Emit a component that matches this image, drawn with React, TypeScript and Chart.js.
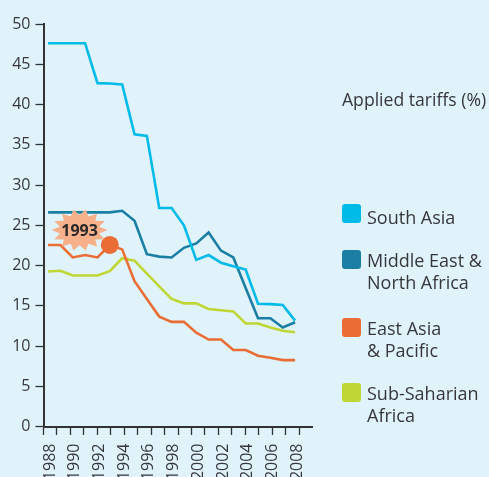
import React, { useEffect, useRef } from "react";
import { Chart, registerables } from "chart.js";

Chart.register(...registerables);

const years = [1988,1989,1990,1991,1992,1993,1994,1995,1996,1997,1998,1999,2000,2001,2002,2003,2004,2005,2006,2007,2008];
const yearLabels = [1988,1990,1992,1994,1996,1998,2000,2002,2004,2006,2008];
const southAsia = [47.6,47.6,47.6,47.6,42.65,42.6,42.5,36.3,36.1,27.15,27.15,25,20.7,21.3,20.35,19.9,19.5,15.25,15.2,15.1,13.15];
const mena = [26.6,26.6,26.6,26.6,26.6,26.6,26.8,25.55,21.4,21.1,21.0,22.2,22.75,24.1,21.85,21.0,17.2,13.45,13.45,12.3,12.95];
const eastAsia = [22.55,22.55,21.0,21.3,21.0,22.55,22.0,18.05,15.85,13.65,13.0,13.0,11.65,10.8,10.8,9.5,9.5,8.8,8.55,8.25,8.25];
const subSaharan = [19.25,19.35,18.75,18.75,18.75,19.3,20.9,20.6,19.0,17.4,15.85,15.3,15.3,14.6,14.45,14.3,12.8,12.8,12.3,11.9,11.7];
const highlightYear = 1993;
const highlightValue = 22.55;
const badgeText = "1993";
const badgeAt = { x: 1990.55, y: 24.4 };
const title = "Applied tariffs (%)";
const legendLabels = [["South Asia"], ["Middle East &", "North Africa"], ["East Asia", "& Pacific"], ["Sub-Saharian", "Africa"]];
const legendColors = ["#00BBE7", "#1B7FA5", "#E96D35", "#BFD634"];
const swatchTops = [204, 249.5, 318, 382.5];
const textTops = [205.5, 249, 317, 382];
const FONT = '"Open Sans", "Noto Sans", sans-serif';
const INK = "#37373B";
const BG = "#E0F3FB";

const series = (vals: number[]) => vals.map((y, i) => ({ x: years[i], y }));

const badgePlugin = {
  id: "badge",
  afterDatasetsDraw(chart: any) {
    const { ctx, scales } = chart;
    const cx = scales.x.getPixelForValue(badgeAt.x);
    const cy = scales.y.getPixelForValue(badgeAt.y);
    const tips = 14;
    ctx.save();
    ctx.beginPath();
    for (let i = 0; i < tips * 2; i++) {
      const a = (i * Math.PI) / tips;
      const r = i % 2 === 0 ? 1 : 0.72;
      const px = cx + Math.cos(a) * 28 * r;
      const py = cy + Math.sin(a) * 21 * r;
      if (i === 0) ctx.moveTo(px, py);
      else ctx.lineTo(px, py);
    }
    ctx.closePath();
    ctx.fillStyle = "#F6B08A";
    ctx.fill();
    ctx.fillStyle = "#2A2A2C";
    ctx.font = `bold 16px ${FONT}`;
    ctx.textAlign = "center";
    ctx.textBaseline = "middle";
    ctx.fillText(badgeText, cx, cy + 1);
    ctx.restore();
  },
};

export default function App() {
  const ref = useRef<HTMLCanvasElement>(null);
  useEffect(() => {
    document.body.style.margin = "0";
    const line = (label: string, data: number[], color: string) => ({
      type: "line" as const,
      label,
      data: series(data),
      borderColor: color,
      backgroundColor: color,
      borderWidth: 2.6,
      pointRadius: 0,
      tension: 0,
      borderJoinStyle: "miter" as const,
      clip: false as const,
    });
    const chart = new Chart(ref.current!, {
      type: "line",
      data: {
        datasets: [
          {
            type: "line",
            label: "highlight",
            data: [{ x: highlightYear, y: highlightValue }],
            pointRadius: 9,
            pointBackgroundColor: "#E96D35",
            pointBorderWidth: 0,
            showLine: false,
          },
          line("South Asia", southAsia, "#00BBE7"),
          line("Middle East & North Africa", mena, "#1B7FA5"),
          line("East Asia & Pacific", eastAsia, "#E96D35"),
          line("Sub-Saharian Africa", subSaharan, "#BFD634"),
        ],
      },
      options: {
        responsive: false,
        animation: false,
        layout: { padding: { top: 24, right: 177, left: 0, bottom: 0 } },
        plugins: { legend: { display: false }, tooltip: { enabled: false } },
        scales: {
          x: {
            type: "linear",
            min: 1987.63,
            max: 2009.37,
            afterBuildTicks: (s: any) => {
              s.ticks = yearLabels.map((value) => ({ value }));
            },
            afterFit: (s: any) => {
              s.height = 50.5;
            },
            grid: { display: false, drawTicks: false },
            border: { display: false },
            ticks: {
              autoSkip: false,
              minRotation: 90,
              maxRotation: 90,
              padding: 17,
              labelOffset: 2,
              color: INK,
              font: { family: FONT, size: 16 },
              callback: (v: any) => String(v),
            },
          },
          x2: {
            type: "linear",
            axis: "x",
            position: { y: 0 },
            min: 0,
            max: 19.96,
            afterBuildTicks: (s: any) => {
              s.ticks = years.slice(0, 20).map((_, i) => ({ value: i }));
            },
            grid: { drawOnChartArea: false, tickLength: 7, tickWidth: 1.3, tickColor: "#333336" },
            border: { display: true, color: "#333336", width: 2 },
            ticks: { display: false },
          },
          y: {
            min: 0,
            max: 50,
            afterFit: (s: any) => {
              s.width = 43.5;
            },
            grid: { drawOnChartArea: false, tickLength: 8, tickWidth: 1.3, tickColor: "#333336" },
            border: { display: true, color: "#333336", width: 2 },
            ticks: {
              stepSize: 5,
              padding: 5,
              color: INK,
              font: { family: FONT, size: 16 },
            },
          },
        },
      } as any,
      plugins: [badgePlugin],
    });
    return () => chart.destroy();
  }, []);

  return (
    <div style={{ position: "absolute", left: 0, top: 0, width: 489, height: 477, background: BG, overflow: "hidden", fontFamily: FONT, color: INK }}>
      <canvas ref={ref} width={489} height={477} style={{ position: "absolute", left: 0, top: 0 }} />
      <div style={{ position: "absolute", left: 342, top: 88, fontSize: 17.6, lineHeight: "22px", whiteSpace: "nowrap" }}>{title}</div>
      {legendLabels.map((lines, i) => (
        <React.Fragment key={lines[0]}>
          <div style={{ position: "absolute", left: 342, top: swatchTops[i], width: 19, height: 19, borderRadius: 3, background: legendColors[i] }} />
          <div style={{ position: "absolute", left: 367, top: textTops[i], fontSize: 18, lineHeight: "22px", whiteSpace: "nowrap" }}>
            {lines.map((l) => (
              <div key={l}>{l}</div>
            ))}
          </div>
        </React.Fragment>
      ))}
    </div>
  );
}
